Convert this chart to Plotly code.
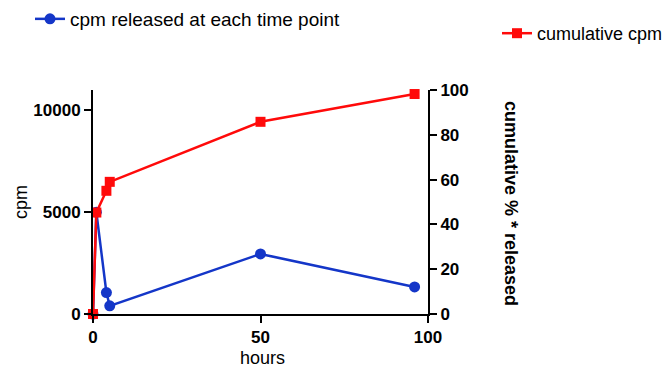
import plotly.graph_objects as go

hours_cpm = [0, 1, 4, 5, 50, 96]
cpm_released = [0, 5000, 1050, 400, 2950, 1330]
hours_cum = [0, 1, 4, 5, 50, 96]
cumulative_pct = [0, 45.3, 55, 59, 85.8, 98.2]

BLUE = "#1436c8"
RED = "#ff0a0a"
FONT = "Liberation Sans, Arial, sans-serif"

fig = go.Figure()
fig.add_trace(go.Scatter(
    x=hours_cum, y=cumulative_pct, name="cumulative cpm",
    mode="lines+markers", line=dict(color=RED, width=2.5),
    marker=dict(symbol="square", size=10, color=RED), legend="legend2", yaxis="y2", cliponaxis=False))
fig.add_trace(go.Scatter(
    x=hours_cpm, y=cpm_released, name="cpm released at each time point",
    mode="lines+markers", line=dict(color=BLUE, width=2.5),
    marker=dict(symbol="circle", size=11, color=BLUE), legend="legend", yaxis="y", cliponaxis=False))

axis_common = dict(showline=True, linecolor="black", linewidth=2, ticks="outside",
                   tickcolor="black", tickwidth=2, ticklen=7, showgrid=False, zeroline=False,
                   tickfont=dict(family=FONT, size=17, color="black", weight="bold"))

fig.update_layout(
    width=667, height=367, plot_bgcolor="white", paper_bgcolor="white",
    margin=dict(l=93, r=239, t=90, b=53, autoexpand=False),
    font=dict(family=FONT, color="black"),
    xaxis=dict(range=[0, 100], tickvals=[0, 50, 100], ticktext=["0", "50", "100"], **axis_common),
    yaxis=dict(range=[0, 11000], tickvals=[0, 5000, 10000], ticktext=["0", "5000", "10000"], **axis_common),
    yaxis2=dict(range=[0, 100], tickvals=[0, 20, 40, 60, 80, 100], overlaying="y", side="right", anchor="x", **axis_common),
    legend=dict(x=30/667, y=1.0, xref="container", yref="container", xanchor="left", yanchor="top",
                font=dict(size=19, family=FONT), bgcolor="rgba(0,0,0,0)", itemwidth=30),
    legend2=dict(x=497/667, y=1 - 15/367, xref="container", yref="container", xanchor="left", yanchor="top",
                 font=dict(size=18, family=FONT), bgcolor="rgba(0,0,0,0)", itemwidth=30),
    showlegend=True,
    annotations=[
        dict(text="<b>cumulative % * released</b>", textangle=90, xref="paper", yref="paper",
             xanchor="center", yanchor="middle",
             x=(511 - 93) / 335, y=(314 - 203) / 224, showarrow=False, font=dict(size=18, family=FONT, color="black")),
        dict(text="cpm", textangle=-90, xref="paper", yref="paper", xanchor="center", yanchor="middle",
             x=(21 - 93) / 335, y=(314 - 202) / 224, showarrow=False, font=dict(size=18, family=FONT, color="black")),
        dict(text="hours", xref="paper", yref="paper", xanchor="center", yanchor="middle",
             x=(262 - 93) / 335, y=-(358 - 314) / 224, showarrow=False, font=dict(size=18, family=FONT, color="black")),
    ],
)

fig.write_html("out.html", config={"displayModeBar": False},
               post_script="document.body.style.margin='0';")
